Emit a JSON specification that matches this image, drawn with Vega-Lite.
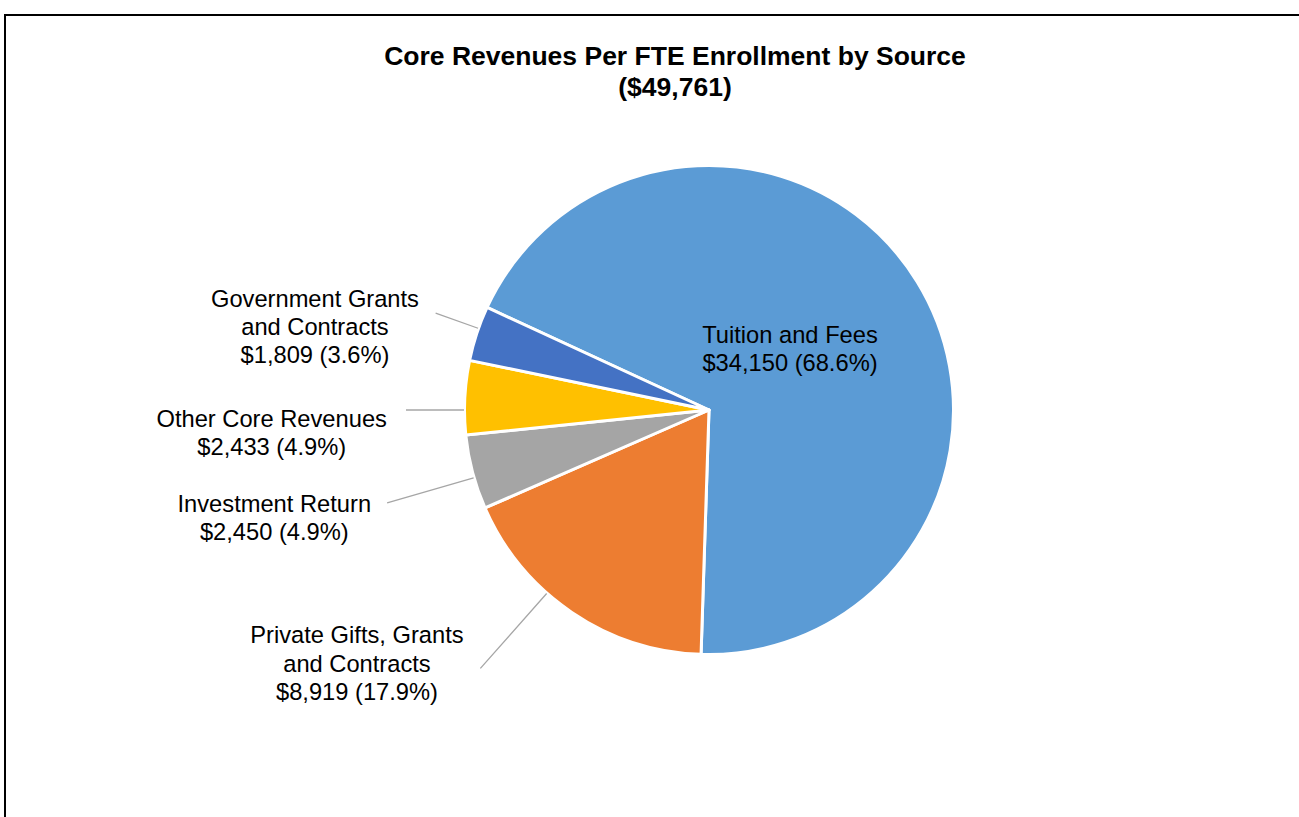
{
  "$schema": "https://vega.github.io/schema/vega-lite/v6.json",
  "width": 1408,
  "height": 806,
  "autosize": {"type": "none"},
  "padding": {"left": 5, "top": 15, "right": -114, "bottom": -4},
  "background": "white",
  "config": {"view": {"stroke": null}, "font": "Liberation Sans"},
  "title": {
    "text": ["Core Revenues Per FTE Enrollment by Source", "($49,761)"],
    "font": "Liberation Sans",
    "fontSize": 26.5,
    "fontWeight": "bold",
    "color": "#000000",
    "anchor": "middle",
    "baseline": "alphabetic",
    "offset": -108,
    "dx": -34,
    "lineHeight": 31
  },
  "data": {
    "values": [
      {"source": "Tuition and Fees", "value": 34150, "order": 1, "label": "Tuition and Fees\n$34,150 (68.6%)"},
      {"source": "Private Gifts, Grants and Contracts", "value": 8919, "order": 2, "label": "Private Gifts, Grants\nand Contracts\n$8,919 (17.9%)"},
      {"source": "Investment Return", "value": 2450, "order": 3, "label": "Investment Return\n$2,450 (4.9%)"},
      {"source": "Other Core Revenues", "value": 2433, "order": 4, "label": "Other Core Revenues\n$2,433 (4.9%)"},
      {"source": "Government Grants and Contracts", "value": 1809, "order": 5, "label": "Government Grants\nand Contracts\n$1,809 (3.6%)"}
    ]
  },
  "layer": [
    {
      "transform": [{"filter": "datum.order === 1"}],
      "mark": {"type": "rect", "filled": false, "stroke": "#000000", "strokeWidth": 2},
      "encoding": {}
    },
    {
      "mark": {"type": "arc", "outerRadius": 244.5, "stroke": "#FFFFFF", "strokeWidth": 3, "strokeJoin": "round", "yOffset": -8},
      "encoding": {
        "theta": {"field": "value", "type": "quantitative", "stack": true, "scale": {"range": [-1.13795, 5.14524]}},
        "order": {"field": "order", "type": "quantitative"},
        "color": {
          "field": "source", "type": "nominal", "legend": null,
          "scale": {
            "domain": ["Tuition and Fees", "Private Gifts, Grants and Contracts", "Investment Return", "Other Core Revenues", "Government Grants and Contracts"],
            "range": ["#5B9BD5", "#ED7D31", "#A5A5A5", "#FFC000", "#4472C4"]
          }
        }
      }
    },
    {
      "mark": {"type": "arc", "filled": false, "stroke": "#A6A6A6", "strokeWidth": 1.3, "innerRadius": 245, "outerRadius": 290, "padAngle": 3.1416, "thetaOffset": 0.0216, "theta2Offset": 0.0216, "yOffset": -8},
      "encoding": {
        "theta": {"field": "value", "type": "quantitative", "stack": true},
        "order": {"field": "order", "type": "quantitative"},
        "detail": {"field": "source", "type": "nominal"},
        "strokeOpacity": {"condition": {"test": "datum.source === 'Government Grants and Contracts'", "value": 1}, "value": 0}
      }
    },
    {
      "mark": {"type": "arc", "filled": false, "stroke": "#A6A6A6", "strokeWidth": 1.3, "innerRadius": 245, "outerRadius": 303, "padAngle": 3.1416, "thetaOffset": -0.0508, "theta2Offset": -0.0508, "yOffset": -8},
      "encoding": {
        "theta": {"field": "value", "type": "quantitative", "stack": true},
        "order": {"field": "order", "type": "quantitative"},
        "detail": {"field": "source", "type": "nominal"},
        "strokeOpacity": {"condition": {"test": "datum.source === 'Other Core Revenues'", "value": 1}, "value": 0}
      }
    },
    {
      "mark": {"type": "arc", "filled": false, "stroke": "#A6A6A6", "strokeWidth": 1.3, "innerRadius": 245, "outerRadius": 335, "padAngle": 3.1416, "thetaOffset": -0.0236, "theta2Offset": -0.0236, "yOffset": -8},
      "encoding": {
        "theta": {"field": "value", "type": "quantitative", "stack": true},
        "order": {"field": "order", "type": "quantitative"},
        "detail": {"field": "source", "type": "nominal"},
        "strokeOpacity": {"condition": {"test": "datum.source === 'Investment Return'", "value": 1}, "value": 0}
      }
    },
    {
      "mark": {"type": "arc", "filled": false, "stroke": "#A6A6A6", "strokeWidth": 1.3, "innerRadius": 245, "outerRadius": 345, "padAngle": 3.1416, "thetaOffset": 0.1288, "theta2Offset": 0.1288, "yOffset": -8},
      "encoding": {
        "theta": {"field": "value", "type": "quantitative", "stack": true},
        "order": {"field": "order", "type": "quantitative"},
        "detail": {"field": "source", "type": "nominal"},
        "strokeOpacity": {"condition": {"test": "datum.source === 'Private Gifts, Grants and Contracts'", "value": 1}, "value": 0}
      }
    },
    {
      "mark": {"type": "text", "radius": 109.7, "thetaOffset": -0.1873, "yOffset": -8, "font": "Liberation Sans", "fontSize": 23.7, "lineBreak": "\n", "lineHeight": 28.3, "align": "center", "baseline": "middle", "fill": "#000000"},
      "encoding": {
        "theta": {"field": "value", "type": "quantitative", "stack": true},
        "order": {"field": "order", "type": "quantitative"},
        "detail": {"field": "source", "type": "nominal"},
        "text": {"condition": {"test": "datum.source === 'Tuition and Fees'", "field": "label", "type": "nominal"}, "value": ""}
      }
    },
    {
      "mark": {"type": "text", "radius": 418.5, "thetaOffset": 0.404, "yOffset": -8, "font": "Liberation Sans", "fontSize": 23.7, "lineBreak": "\n", "lineHeight": 28.3, "align": "center", "baseline": "middle", "fill": "#000000"},
      "encoding": {
        "theta": {"field": "value", "type": "quantitative", "stack": true},
        "order": {"field": "order", "type": "quantitative"},
        "detail": {"field": "source", "type": "nominal"},
        "text": {"condition": {"test": "datum.source === 'Private Gifts, Grants and Contracts'", "field": "label", "type": "nominal"}, "value": ""}
      }
    },
    {
      "mark": {"type": "text", "radius": 444.9, "thetaOffset": 0.0431, "yOffset": -8, "font": "Liberation Sans", "fontSize": 23.7, "lineBreak": "\n", "lineHeight": 28.3, "align": "center", "baseline": "middle", "fill": "#000000"},
      "encoding": {
        "theta": {"field": "value", "type": "quantitative", "stack": true},
        "order": {"field": "order", "type": "quantitative"},
        "detail": {"field": "source", "type": "nominal"},
        "text": {"condition": {"test": "datum.source === 'Investment Return'", "field": "label", "type": "nominal"}, "value": ""}
      }
    },
    {
      "mark": {"type": "text", "radius": 437.4, "thetaOffset": -0.0728, "yOffset": -8, "font": "Liberation Sans", "fontSize": 23.7, "lineBreak": "\n", "lineHeight": 28.3, "align": "center", "baseline": "middle", "fill": "#000000"},
      "encoding": {
        "theta": {"field": "value", "type": "quantitative", "stack": true},
        "order": {"field": "order", "type": "quantitative"},
        "detail": {"field": "source", "type": "nominal"},
        "text": {"condition": {"test": "datum.source === 'Other Core Revenues'", "field": "label", "type": "nominal"}, "value": ""}
      }
    },
    {
      "mark": {"type": "text", "radius": 409.2, "thetaOffset": -0.0456, "yOffset": -8, "font": "Liberation Sans", "fontSize": 23.7, "lineBreak": "\n", "lineHeight": 28.3, "align": "center", "baseline": "middle", "fill": "#000000"},
      "encoding": {
        "theta": {"field": "value", "type": "quantitative", "stack": true},
        "order": {"field": "order", "type": "quantitative"},
        "detail": {"field": "source", "type": "nominal"},
        "text": {"condition": {"test": "datum.source === 'Government Grants and Contracts'", "field": "label", "type": "nominal"}, "value": ""}
      }
    }
  ]
}
